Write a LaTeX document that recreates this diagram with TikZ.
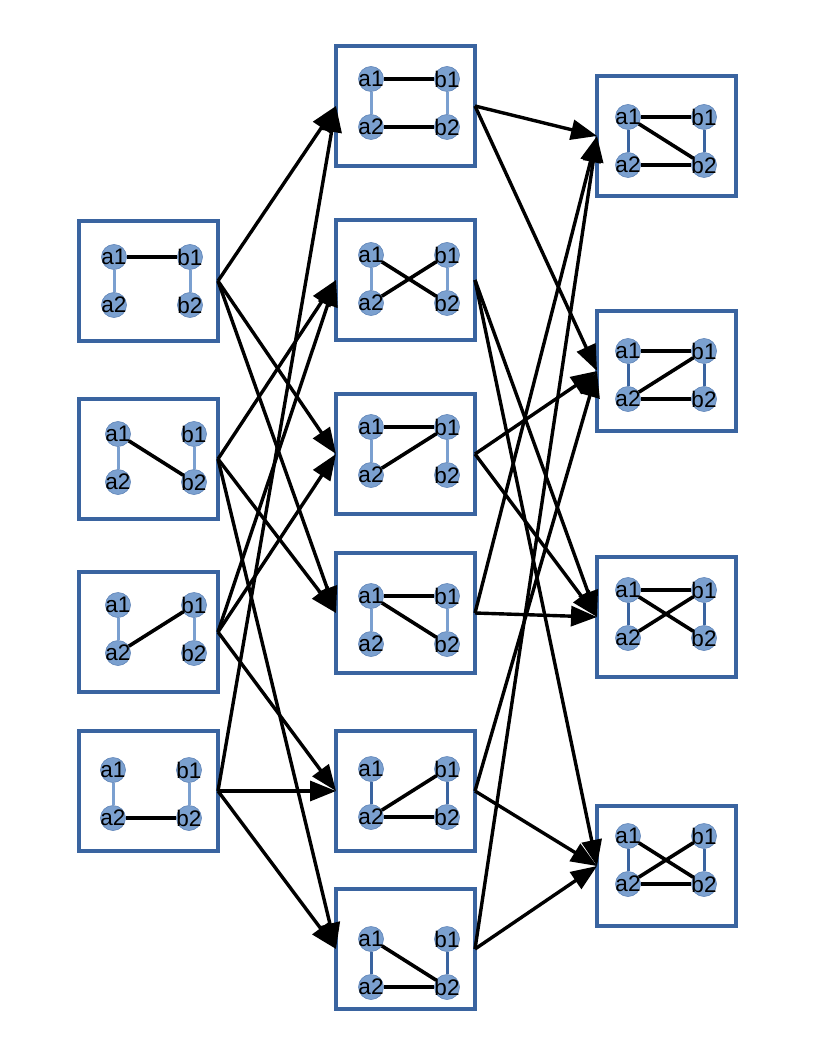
\documentclass[tikz,border=0pt]{standalone}
\usepackage{fontspec}
\setmainfont{Liberation Sans}
\usetikzlibrary{arrows.meta}
\definecolor{boxblue}{HTML}{3A64A0}
\definecolor{nodeblue}{HTML}{7BA0CF}
\definecolor{nodeedge}{HTML}{5F84B8}
\definecolor{lightedge}{HTML}{7BA0D0}
\newcommand{\gph}[7]{%
  \node[gbox] (#1) at (#2+69.5,#3+60) {};
  \node[vert] (#1a1) at (#4,#5) {};
  \node[vert] (#1b1) at (#4+76,#5) {};
  \node[vert] (#1a2) at (#4,#5+48) {};
  \node[vert] (#1b2) at (#4+76,#5+48) {};
  \draw[#6] (#1a1) -- (#1a2);
  \draw[#6] (#1b1) -- (#1b2);
  \foreach \u/\v in {#7} {\draw[bedge] (#1\u) -- (#1\v);}
  \foreach \w in {a1,b1,a2,b2} {\node[lab] at (#1\w) {\w};}
}
\begin{document}
\begin{tikzpicture}[x=1pt,y=-1pt,
  gbox/.style={draw=boxblue, line width=3.2pt, minimum width=139pt, minimum height=120pt, inner sep=0pt, outer sep=0pt, fill=white},
  vert/.style={circle, fill=nodeblue, draw=nodeedge, line width=0.6pt, minimum size=25pt, inner sep=0pt},
  lab/.style={font=\fontsize{22.5}{24}\selectfont, inner sep=0pt, text=black},
  ledge/.style={draw=lightedge, line width=3pt},
  dedge/.style={draw=boxblue, line width=3pt},
  bedge/.style={draw=black, line width=3.6pt},
  arr/.style={draw=black, line width=3.4pt, -{Triangle[length=26pt,width=20pt]}}]
\useasboundingbox (0,0) rectangle (816,1056);
% column 1
\gph{g1}{79}{221}{114}{257}{ledge}{a1/b1}
\gph{g2}{79}{399}{118}{434}{ledge}{a1/b2}
\gph{g3}{79}{572}{118}{605}{ledge}{a2/b1}
\gph{g4}{79}{731}{113}{770}{ledge}{a2/b2}
% column 2
\gph{h1}{336}{46}{371}{79}{ledge}{a1/b1,a2/b2}
\gph{h2}{336}{220}{371}{255}{ledge}{a1/b2,a2/b1}
\gph{h3}{336}{394}{371}{427}{ledge}{a1/b1,a2/b1}
\gph{h4}{336}{553}{371}{596}{ledge}{a1/b1,a1/b2}
\gph{h5}{336}{731}{371}{769}{dedge}{a2/b1,a2/b2}
\gph{h6}{336}{889}{371}{939}{dedge}{a1/b2,a2/b2}
% column 3
\gph{k1}{597}{76}{628}{117}{dedge}{a1/b1,a2/b2,a1/b2}
\gph{k2}{597}{311}{628}{351}{dedge}{a1/b1,a2/b2,a2/b1}
\gph{k3}{597}{557}{628}{590}{dedge}{a1/b1,a1/b2,a2/b1}
\gph{k4}{597}{806}{628}{836}{dedge}{a1/b2,a2/b1,a2/b2}
% arrows column 1 -> 2
\foreach \s/\t in {g1/h1,g1/h3,g1/h4,g2/h2,g2/h4,g2/h6,g3/h2,g3/h3,g3/h5,g4/h1,g4/h5,g4/h6}
  {\draw[arr] (\s.east) -- (\t.west);}
% arrows column 2 -> 3
\foreach \s/\t in {h1/k1,h1/k2,h2/k3,h2/k4,h3/k2,h3/k3,h4/k1,h4/k3,h5/k2,h5/k4,h6/k1,h6/k4}
  {\draw[arr] (\s.east) -- (\t.west);}
\end{tikzpicture}
\end{document}
